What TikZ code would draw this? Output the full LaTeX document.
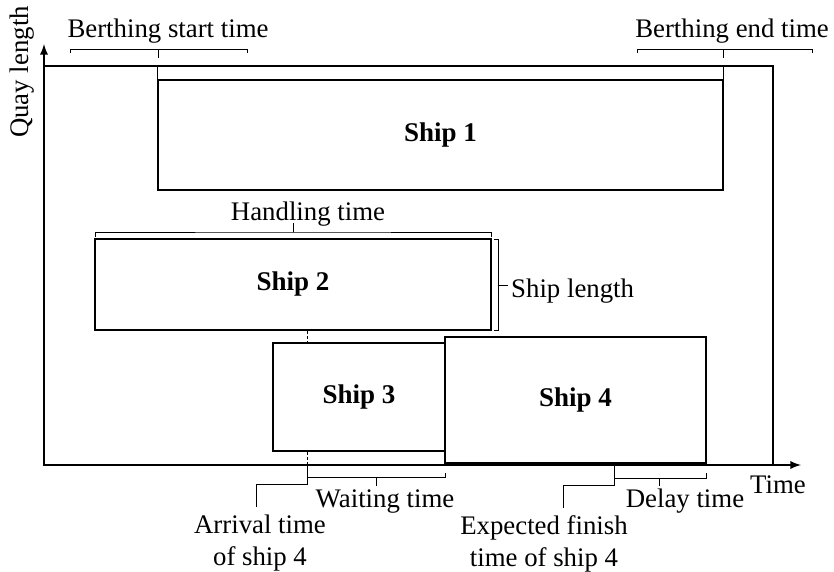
\documentclass[tikz,border=0pt]{standalone}
\usepackage{fontspec}
\setmainfont{Liberation Serif}
\usetikzlibrary{calc}

\begin{document}
\begin{tikzpicture}[x=1pt, y=-1pt,
every node/.style = {font=\fontsize{26.8}{32}\selectfont, inner sep=0pt},
ship/.style = {draw, line width=1.5pt, fill=white,
  font=\fontsize{27}{32}\selectfont\bfseries},
axis/.style = {line width=2.6pt},
brace/.style = {line width=1pt},
label/.style = {anchor=base, align=center},
label2/.style = {anchor=north, align=center}
]
\useasboundingbox (0,0) rectangle (834,572);
\coordinate (o) at (44,465);
\coordinate (top) at (44,66);
\draw[axis, latex-latex] (44,44) -- (o) -- (801,465);
\draw[axis] (top) -- (773,66) -- (773,465);

\node [ship, minimum width=565pt, minimum height=110pt] (s1) at (440.5,135) {Ship 1};
\node [ship, minimum width=396pt, minimum height=91pt] (s2) at (293,284.5) {Ship 2};
\node [ship, minimum width=172pt, minimum height=108pt] (s3) at (359,397) {Ship 3};
\node [ship, minimum width=261pt, minimum height=126pt] (s4) at (575.5,400) {Ship 4};

\draw[brace] (s1.north west) -- (s1.north west |- top);
\draw[brace] (s1.north east) -- (s1.north east |- top);
\draw[brace] (70,53) -- (70,50) -- (247,50) -- (247,53) (158,50) -- (158,58);
\draw[brace] (637,53) -- (637,50) -- (812,50) -- (812,53) (723,50) -- (723,58);
\draw[brace] (95,237) |- (293,232) -| (491,237) (293,232) -- (293,223);
\draw[brace] (494,239) -- (498,239) -- (498,330) -- (494,330) (498,285) -- (508,285);
\draw[brace, dash pattern=on 3pt off 2pt] (s2.south -| 307,0) -- (s3.north -| 307,0)
  (s3.south -| 307,0) -- (307,465);
\draw[brace] (307,465) -- (307,484) -| (256,507);
\draw[brace] (307,473) -- (307,477) -- (445,477) -- (445,473) (376,477) -- (376,486);
\draw[brace] (614,465) -- (614,485) -| (563,508);
\draw[brace] (614,478) -- (706,478) -- (706,473) (659,478) -- (659,486);

\node [label] (bst) at (168,38) {Berthing start time};
\node [label] (bet) at (732,38) {Berthing end time};
\node [label] (ht) at (308,220) {Handling time};
\node [anchor=base west] (sl) at (511,297) {Ship length};
\node [label] (wt) at (385,507) {Waiting time};
\node [label2] (at) at (260,515) {Arrival time\\of ship 4};
\node [label2] (eft) at (544,515) {Expected finish\\time of ship 4};
\node [label] (dt) at (685,507) {Delay time};
\node [anchor=base west] (tm) at (750,493) {Time};
\node [rotate=90] (ql) at (22,72) {Quay length};

\end{tikzpicture}
\end{document}
